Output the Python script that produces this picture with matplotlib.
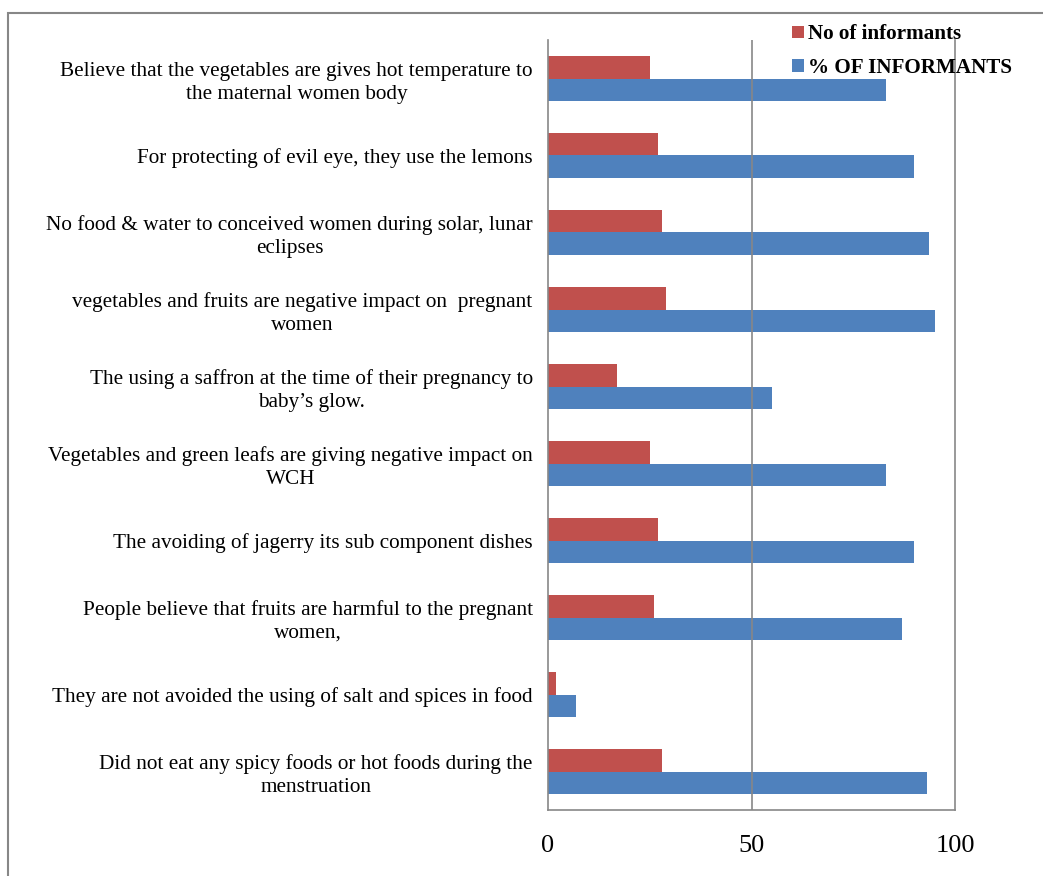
import matplotlib.pyplot as plt
from matplotlib.patches import Rectangle

categories = [
    'Believe that the vegetables are gives hot temperature to\nthe maternal women body',
    'For protecting of evil eye, they use the lemons',
    'No food & water to conceived women during solar, lunar\neclipses',
    'vegetables and fruits are negative impact on  pregnant\nwomen',
    'The using a saffron at the time of their pregnancy to\nbaby\u2019s glow.',
    'Vegetables and green leafs are giving negative impact on\nWCH',
    'The avoiding of jagerry its sub component dishes',
    'People believe that fruits are harmful to the pregnant\nwomen,',
    'They are not avoided the using of salt and spices in food',
    'Did not eat any spicy foods or hot foods during the\nmenstruation',
]
no_informants = [25, 27, 28, 29, 17, 25, 27, 26, 2, 28]
pct_informants = [83, 90, 93.5, 95, 55, 83, 90, 87, 7, 93]

RED = '#c0504d'
BLUE = '#4f81bd'
GRID = '#878787'

plt.rcParams['font.family'] = ['Liberation Serif', 'DejaVu Serif']

fig = plt.figure(figsize=(10.43, 8.76), dpi=100)
ax = fig.add_axes([548 / 1043, 1 - 810 / 876, (955 - 548) / 1043, (810 - 40) / 876])

n = len(categories)
pos = [n - 1 - i for i in range(n)]
h = 0.286
ax.barh([p + h / 2 for p in pos], no_informants, height=h, color=RED, label='No of informants')
ax.barh([p - h / 2 for p in pos], pct_informants, height=h, color=BLUE, label='% OF INFORMANTS')

ax.set_xlim(0, 100)
ax.set_ylim(-0.5, n - 0.5)
ax.set_xticks([0, 50, 100])
ax.set_yticks(pos)
ax.set_yticklabels(categories, fontsize=15.3, multialignment='center', linespacing=1.25)
ax.tick_params(axis='x', length=0, labelsize=19, pad=18)
ax.tick_params(axis='y', length=0, pad=11)
ax.axvline(50, color=GRID, lw=1.2)
for s in ['left', 'bottom', 'right']:
    ax.spines[s].set_color(GRID)
    ax.spines[s].set_linewidth(1.2)
ax.spines['top'].set_visible(False)

leg = fig.legend(loc='upper left', bbox_to_anchor=(784 / 1043, 1 - 16 / 876), frameon=False,
                 prop={'weight': 'bold', 'size': 15.2}, handlelength=0.55, handleheight=0.55,
                 handletextpad=0.2, labelspacing=0.65, borderaxespad=0)

fig.patches.append(Rectangle((8 / 1043, -0.01), 1.02, 1 - 13 / 876 + 0.01, transform=fig.transFigure,
                             fill=False, edgecolor=GRID, lw=1.5))

fig.savefig('out.png', dpi=100)
